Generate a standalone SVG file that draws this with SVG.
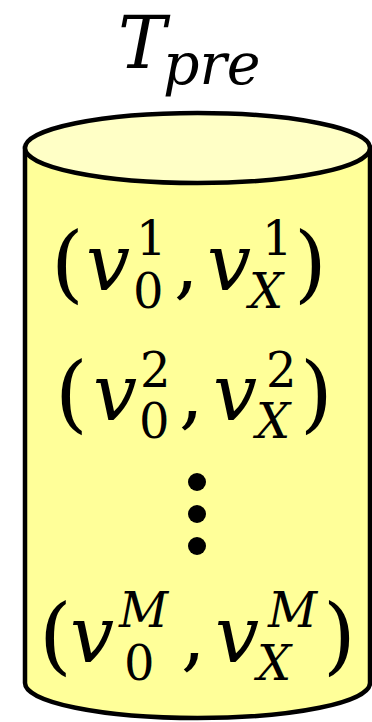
<svg xmlns="http://www.w3.org/2000/svg" width="372" height="722" viewBox="0 0 372 722">
<style>
.t{font-family:"DejaVu Serif","Liberation Serif",serif;fill:#000}
.i{font-style:italic}
.p{font-size:84px}
.m{font-size:78px}
.s{font-size:48px}
</style>
<rect width="372" height="722" fill="#fff"/>
<g id="cylinder">
<path d="M25,148 L25,683 A172.5,35 0 0 0 370,683 L370,148 Z" fill="#ffff99" stroke="#000" stroke-width="4.5"/>
<ellipse cx="197.5" cy="148" rx="172.5" ry="35" fill="#ffffc6" stroke="#000" stroke-width="4.5"/>
</g>
<g id="title">
<text class="t i" x="118" y="68" font-size="72">T</text>
<text class="t i" x="163" y="84" font-size="57">pre</text>
</g>
<g id="row1">
<text class="t p" x="51" y="292">(</text>
<text class="t m i" x="86" y="290">v</text>
<text class="t s" x="136" y="255">1</text>
<text class="t s" x="133" y="308">0</text>
<text class="t m" x="174" y="290">,</text>
<text class="t m i" x="207" y="290">v</text>
<text class="t s" x="262" y="255">1</text>
<text class="t s i" x="249" y="308">X</text>
<text class="t p" x="294" y="292">)</text>
</g>
<g id="row2">
<text class="t p" x="55" y="422">(</text>
<text class="t m i" x="93" y="420">v</text>
<text class="t s" x="140" y="387">2</text>
<text class="t s" x="139" y="438">0</text>
<text class="t m" x="179" y="420">,</text>
<text class="t m i" x="213" y="420">v</text>
<text class="t s" x="266" y="387">2</text>
<text class="t s i" x="256" y="438">X</text>
<text class="t p" x="300" y="422">)</text>
</g>
<g id="dots" fill="#000">
<circle cx="197" cy="482" r="9"/>
<circle cx="197" cy="514" r="9"/>
<circle cx="197" cy="546" r="9"/>
</g>
<g id="rowM">
<text class="t p" x="39" y="664">(</text>
<text class="t m i" x="70" y="662">v</text>
<text class="t s i" x="119" y="627">M</text>
<text class="t s" x="124" y="680">0</text>
<text class="t m" x="181" y="662">,</text>
<text class="t m i" x="215" y="662">v</text>
<text class="t s i" x="268" y="627">M</text>
<text class="t s i" x="257" y="680">X</text>
<text class="t p" x="323" y="664">)</text>
</g>
</svg>
